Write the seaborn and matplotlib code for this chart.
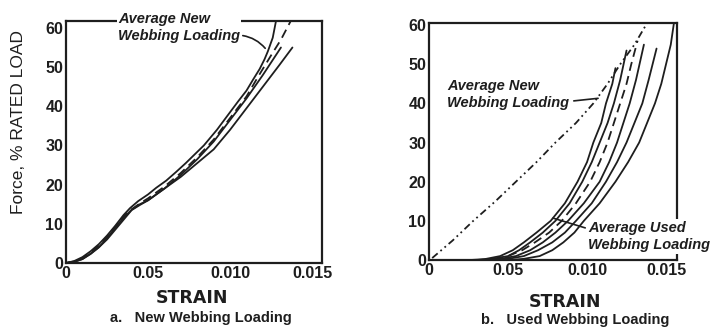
import matplotlib
matplotlib.use("Agg")
import matplotlib.pyplot as plt
import pandas as pd
import seaborn as sns

# ---------------- dados ----------------
# painel a: fita nova (strain, force)
new_1_strain = [0, 0.0005, 0.001, 0.0015, 0.002, 0.0025, 0.003, 0.0035, 0.0039, 0.0044, 0.005, 0.0055,
                0.0061, 0.0067, 0.0073, 0.0084, 0.0092, 0.0100, 0.0105, 0.0110, 0.0114, 0.0118,
                0.0121, 0.0123, 0.0126, 0.0128]
new_1_force = [0, 0.5, 1.5, 3, 4.8, 7, 9.5, 12.2, 14, 15.8, 17.5, 19.2,
               21, 23.2, 25.5, 30, 34, 38.5, 41.3, 44, 46.8, 49.5,
               52, 54, 57.5, 61.8]

new_avg_strain = [0, 0.0005, 0.001, 0.0015, 0.002, 0.0025, 0.003, 0.0035, 0.004, 0.0045, 0.005, 0.006,
                  0.007, 0.008, 0.009, 0.010, 0.011, 0.0117, 0.0125, 0.0131, 0.0137]
new_avg_force = [0, 0.4, 1.2, 2.7, 4.5, 6.7, 9.2, 11.8, 13.7, 15.2, 16.5, 19.5,
                 23, 27, 31.5, 37, 42.5, 47.5, 53, 57, 61.8]

new_3_strain = [0, 0.0005, 0.001, 0.0015, 0.002, 0.0025, 0.003, 0.0035, 0.004, 0.0045, 0.005, 0.006,
                0.007, 0.008, 0.009, 0.010, 0.011, 0.012, 0.0131]
new_3_force = [0, 0.3, 1.0, 2.4, 4.0, 6.3, 9.0, 11.5, 13.6, 15, 16, 19,
               22.5, 26.5, 31, 36.5, 42, 48, 55]

new_4_strain = [0, 0.0005, 0.001, 0.0015, 0.002, 0.0025, 0.003, 0.0035, 0.004, 0.0045, 0.005, 0.006,
                0.007, 0.008, 0.009, 0.010, 0.011, 0.012, 0.013, 0.0138]
new_4_force = [0, 0.3, 1.0, 2.3, 4.0, 6.0, 8.5, 11, 13.5, 14.8, 16, 19,
               22, 25.5, 29, 34, 39.5, 45, 50.5, 55]

# painel b: fita usada
used_1_strain = [0.0026, 0.0035, 0.0045, 0.0053, 0.006, 0.0068, 0.0077, 0.0086, 0.0094, 0.0100,
                 0.0104, 0.0109, 0.0112, 0.0116, 0.0118]
used_1_force = [0, 0.2, 1, 2.5, 4.5, 7, 10, 14.5, 20, 25, 30, 35, 40, 45, 49]

used_2_strain = [0.003, 0.004, 0.005, 0.0057, 0.0064, 0.0072, 0.008, 0.0089, 0.0097, 0.0103,
                 0.0108, 0.0113, 0.0117, 0.0121, 0.0125]
used_2_force = [0, 0.3, 1, 2.5, 4.5, 7, 10, 14.5, 20, 25, 30, 35, 40, 46, 53.5]

used_avg_strain = [0.0032, 0.0042, 0.005, 0.0059, 0.0067, 0.0076, 0.0084, 0.0093, 0.0102, 0.0108,
                   0.0113, 0.0117, 0.0121, 0.0125, 0.0128, 0.0132]
used_avg_force = [0, 0.3, 1, 2.5, 4.5, 7, 10, 14.5, 20, 25, 30, 35, 40, 45, 50, 56]

used_3_strain = [0.0035, 0.0045, 0.0055, 0.0064, 0.0072, 0.008, 0.0088, 0.0098, 0.0108, 0.0114,
                 0.0119, 0.0123, 0.0127, 0.0131, 0.0136]
used_3_force = [0, 0.3, 1, 2.5, 4.5, 7, 10, 14.5, 20, 25, 30, 35, 40, 46, 55]

used_4_strain = [0.004, 0.005, 0.006, 0.0069, 0.0078, 0.0086, 0.0093, 0.0103, 0.0112, 0.0119,
                 0.0125, 0.013, 0.0135, 0.0139, 0.0144]
used_4_force = [0, 0.3, 1, 2.5, 4.5, 7, 10, 14.5, 20, 25, 30, 35, 40, 46, 54]

used_5_strain = [0.0051, 0.006, 0.007, 0.0078, 0.0085, 0.0092, 0.0098, 0.0108, 0.0118, 0.0126,
                 0.0133, 0.0138, 0.0143, 0.0147, 0.0150, 0.0153, 0.0155]
used_5_force = [0, 0.3, 1, 2.5, 4.5, 7, 10, 14.5, 20, 25, 30, 35, 40, 45, 50, 55, 60.5]

# media da fita nova repetida no painel b
ref_new_strain = [0.0002, 0.0015, 0.0028, 0.0042, 0.0055, 0.0068, 0.008, 0.0093, 0.0104, 0.0113,
                  0.0121, 0.013, 0.0138]
ref_new_force = [0.5, 5, 10, 15, 20, 25, 30, 35, 40, 45, 50, 55, 60.5]

x_ticks = [0, 0.005, 0.010, 0.015]
x_tick_labels = ["0", "0.05", "0.010", "0.015"]
y_ticks = [0, 10, 20, 30, 40, 50, 60]

# ---------------- estilo ----------------
sns.set_style("white")
plt.rcParams["font.family"] = ["Liberation Sans", "DejaVu Sans"]
ink = "#1e1e1e"
solid = "-"
dashed = (0, (5, 3))
dashdot = (0, (4, 2, 1, 2, 1, 2))

fig = plt.figure(figsize=(7.19, 3.29), dpi=100)
ax_a = fig.add_axes([0.0918, 0.2006, 0.356, 0.736])
ax_b = fig.add_axes([0.5967, 0.2097, 0.345, 0.720])


def curva(ax, xs, ys, ls, lw=1.3):
    df = pd.DataFrame({"strain": xs, "force": ys})
    sns.lineplot(data=df, x="strain", y="force", ax=ax, sort=False, estimator=None,
                 color=ink, linestyle=ls, linewidth=lw)


curva(ax_a, new_1_strain, new_1_force, solid)
curva(ax_a, new_3_strain, new_3_force, solid)
curva(ax_a, new_4_strain, new_4_force, solid)
curva(ax_a, new_avg_strain, new_avg_force, dashed)

curva(ax_b, used_1_strain, used_1_force, solid)
curva(ax_b, used_2_strain, used_2_force, solid)
curva(ax_b, used_3_strain, used_3_force, solid)
curva(ax_b, used_4_strain, used_4_force, solid)
curva(ax_b, used_5_strain, used_5_force, solid)
curva(ax_b, used_avg_strain, used_avg_force, dashed)
curva(ax_b, ref_new_strain, ref_new_force, dashdot)

for ax, xmax, ymax in [(ax_a, 0.0156, 61.8), (ax_b, 0.0157, 60.5)]:
    ax.set_xlim(0, xmax)
    ax.set_ylim(0, ymax)
    ax.set_xticks(x_ticks)
    ax.set_xticklabels(x_tick_labels)
    ax.set_yticks(y_ticks)
    ax.set_xlabel("")
    ax.set_ylabel("")
    ax.tick_params(direction="in", length=4, width=1.5, colors=ink, pad=2,
                   labelsize=11.5)
    for lab in ax.get_xticklabels() + ax.get_yticklabels():
        lab.set_fontweight("bold")
    for s in ax.spines.values():
        s.set_linewidth(1.6)
        s.set_color(ink)

# anotacoes
txt = dict(fontsize=10.5, fontweight="bold", fontstyle="italic", color=ink,
           linespacing=1.3, ha="left", va="center")
ax_a.annotate("Average New\nWebbing Loading", xy=(0.01214, 54.8), xycoords="data",
              xytext=(0.203, 0.973), textcoords="axes fraction",
              bbox=dict(boxstyle="square,pad=0.1", fc="white", ec="none"),
              arrowprops=dict(arrowstyle="-", color=ink, lw=1.2, relpos=(1, 0.25),
                              connectionstyle="arc3,rad=-0.2", shrinkA=1, shrinkB=0),
              **txt)
ax_b.annotate("Average New\nWebbing Loading", xy=(0.0107, 41.3), xycoords="data",
              xytext=(0.073, 0.70), textcoords="axes fraction",
              arrowprops=dict(arrowstyle="-", color=ink, lw=1.2, relpos=(1, 0.27),
                              shrinkA=1, shrinkB=0),
              **txt)
ax_b.annotate("Average Used\nWebbing Loading", xy=(0.00785, 10.7), xycoords="data",
              xytext=(0.641, 0.099), textcoords="axes fraction",
              bbox=dict(boxstyle="square,pad=0.1", fc="white", ec="none"),
              arrowprops=dict(arrowstyle="-", color=ink, lw=1.2, relpos=(0, 0.75),
                              shrinkA=1, shrinkB=0),
              annotation_clip=False, **txt)

# rotulos dos eixos e legendas dos paineis
fig.text(19 / 719, 1 - 122 / 329, "Force, % RATED LOAD", rotation=90, fontsize=12.5,
         color=ink, ha="center", va="center")
fig.text(192 / 719, 1 - 298 / 329, "STRAIN", fontsize=12.5, fontweight="bold",
         family="DejaVu Sans", color=ink, ha="center", va="center")
fig.text(565 / 719, 1 - 302 / 329, "STRAIN", fontsize=12.5, fontweight="bold",
         family="DejaVu Sans", color=ink, ha="center", va="center")
fig.text(201 / 719, 1 - 318 / 329, "a.   New Webbing Loading", fontsize=10.5,
         fontweight="bold", color=ink, ha="center", va="center")
fig.text(575 / 719, 1 - 320 / 329, "b.   Used Webbing Loading", fontsize=10.5,
         fontweight="bold", color=ink, ha="center", va="center")

fig.savefig("out.png", dpi=100, facecolor="white")
